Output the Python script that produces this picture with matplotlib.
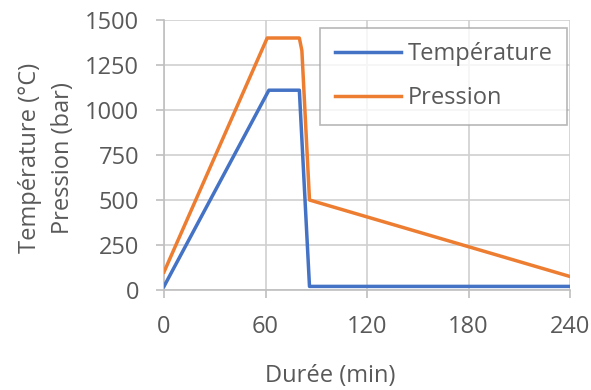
import matplotlib
matplotlib.use("Agg")
import matplotlib.pyplot as plt

plt.rcParams['font.family'] = ['Open Sans', 'DejaVu Sans']

# Data
temp_x = [0, 62, 80, 86, 240]
temp_y = [20, 1110, 1110, 20, 20]
pres_x = [0, 61, 80, 81.5, 86, 240]
pres_y = [100, 1400, 1400, 1330, 500, 75]
xticks = [0, 60, 120, 180, 240]
yticks = [0, 250, 500, 750, 1000, 1250, 1500]

txt = '#595959'
grid = '#D0D0D0'
fs = 17

fig = plt.figure(figsize=(5.91, 3.90), dpi=100)
ax = fig.add_axes([0.2775, 0.2564, 0.687, 0.6923])

ax.plot(temp_x, temp_y, color='#4472C4', lw=2.5, label='Température', solid_joinstyle='round', zorder=3)
ax.plot(pres_x, pres_y, color='#ED7D31', lw=2.5, label='Pression', solid_joinstyle='round', zorder=3)

ax.set_xlim(0, 240)
ax.set_ylim(0, 1500)
ax.set_xticks(xticks)
ax.set_yticks(yticks)
ax.grid(True, color=grid, lw=1.2)
ax.set_axisbelow(True)
for s in ['top', 'right']:
    ax.spines[s].set_visible(False)
for s in ['left', 'bottom']:
    ax.spines[s].set_color('#BFBFBF')
    ax.spines[s].set_linewidth(1.2)
ax.tick_params(axis='both', colors='#BFBFBF', labelcolor=txt, labelsize=fs, length=6, width=1.2)
ax.tick_params(axis='x', pad=12)
ax.tick_params(axis='y', pad=12)

ax.set_xlabel('Durée (min)', color=txt, fontsize=fs)
ax.xaxis.set_label_coords(0.409, -0.275)
ax.set_ylabel('Température (°C)\nPression (bar)', color=txt, fontsize=fs, linespacing=1.5)
ax.yaxis.set_label_coords(-0.22, 0.49)

leg = ax.legend(loc='upper right', bbox_to_anchor=(0.9926, 0.970), borderaxespad=0, fontsize=fs, frameon=True,
                fancybox=False, edgecolor='#A6A6A6', handlelength=2.8, handletextpad=0.3,
                labelspacing=0.85, borderpad=0.6)
leg.get_frame().set_linewidth(1.2)
for t in leg.get_texts():
    t.set_color(txt)

fig.savefig('out.png', dpi=100)
